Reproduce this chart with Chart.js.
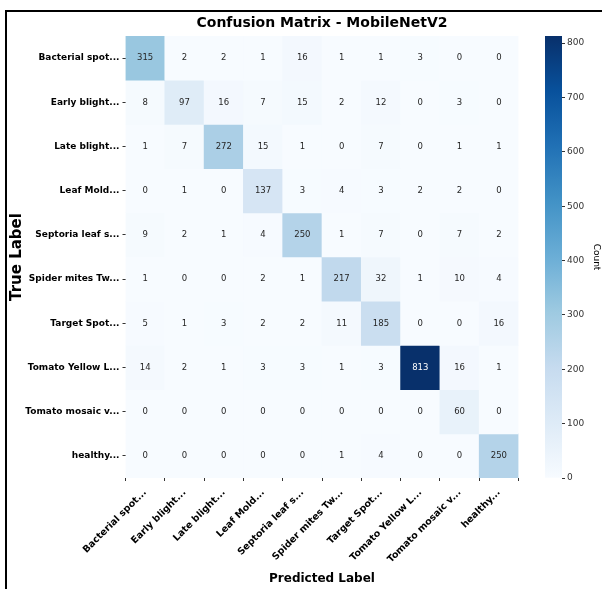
<!DOCTYPE html>
<html>
<head>
<meta charset="utf-8">
<script src="https://cdn.jsdelivr.net/npm/chart.js@4.4.1/dist/chart.umd.min.js"></script>
<style>
  html, body { margin: 0; padding: 0; background: #fff; overflow: hidden; }
  #wrap { position: relative; width: 602px; height: 589px; overflow: hidden; }
  #frame { position: absolute; left: 5px; top: 10px; width: 700px; height: 700px;
           border-left: 2px solid #000; border-top: 2px solid #000; pointer-events: none; }
  #main { position: absolute; left: 0; top: 0; }
  #bar { position: absolute; left: 520px; top: 0; }
</style>
</head>
<body>
<div id="wrap">
  <div id="frame"></div>
  <canvas id="main" width="602" height="589"></canvas>
  <canvas id="bar" width="82" height="589"></canvas>
</div>
<script>
// Class names (truncated as in the plot)
const trueLabels = [
  'Bacterial spot...', 'Early blight...', 'Late blight...', 'Leaf Mold...',
  'Septoria leaf s...', 'Spider mites Tw...', 'Target Spot...',
  'Tomato Yellow L...', 'Tomato mosaic v...', 'healthy...'
];
const predictedLabels = trueLabels.slice();

// Confusion matrix rows: true class -> counts per predicted class
const matrix = [
  [315,  2,   2,   1,  16,   1,   1,   3,   0,   0],
  [  8, 97,  16,   7,  15,   2,  12,   0,   3,   0],
  [  1,  7, 272,  15,   1,   0,   7,   0,   1,   1],
  [  0,  1,   0, 137,   3,   4,   3,   2,   2,   0],
  [  9,  2,   1,   4, 250,   1,   7,   0,   7,   2],
  [  1,  0,   0,   2,   1, 217,  32,   1,  10,   4],
  [  5,  1,   3,   2,   2,  11, 185,   0,   0,  16],
  [ 14,  2,   1,   3,   3,   1,   3, 813,  16,   1],
  [  0,  0,   0,   0,   0,   0,   0,   0,  60,   0],
  [  0,  0,   0,   0,   0,   1,   4,   0,   0, 250]
];

const colorbarTicks = [0, 100, 200, 300, 400, 500, 600, 700, 800];
const titleText = 'Confusion Matrix - MobileNetV2';

const vmin = 0;
const vmax = Math.max(...matrix.flat());
const FONT = '"DejaVu Sans", "Liberation Sans", sans-serif';

// matplotlib "Blues" colormap stops
const bluesStops = [
  [247, 251, 255], [222, 235, 247], [198, 219, 239], [158, 202, 225],
  [107, 174, 214], [66, 146, 198], [33, 113, 181], [8, 81, 156], [8, 48, 107]
];
function bluesRGB(t) {
  t = Math.min(1, Math.max(0, t));
  const pos = t * (bluesStops.length - 1);
  const i = Math.min(bluesStops.length - 2, Math.floor(pos));
  const f = pos - i;
  const a = bluesStops[i], b = bluesStops[i + 1];
  return [0, 1, 2].map(k => a[k] + (b[k] - a[k]) * f);
}
function blues(t) {
  const c = bluesRGB(t).map(Math.round);
  return `rgb(${c[0]},${c[1]},${c[2]})`;
}
function norm(v) { return (v - vmin) / (vmax - vmin); }
function textColorFor(v) {
  const lin = bluesRGB(norm(v)).map(x => {
    x /= 255;
    return x <= 0.03928 ? x / 12.92 : Math.pow((x + 0.055) / 1.055, 2.4);
  });
  const lum = 0.2126 * lin[0] + 0.7152 * lin[1] + 0.0722 * lin[2];
  return lum > 0.408 ? '#262626' : '#ffffff';
}

// Writes each cell's count at the centre of its bar
const cellText = {
  id: 'cellText',
  afterDatasetsDraw(chart) {
    const ctx = chart.ctx;
    ctx.save();
    ctx.font = `8.5px ${FONT}`;
    ctx.textAlign = 'center';
    ctx.textBaseline = 'middle';
    chart.data.datasets.forEach((ds, r) => {
      chart.getDatasetMeta(r).data.forEach((bar, c) => {
        const v = matrix[r][c];
        ctx.fillStyle = textColorFor(v);
        ctx.fillText(String(v), bar.x, (bar.y + bar.base) / 2);
      });
    });
    ctx.restore();
  }
};

// Heading centred over the plotting area
const chartTitle = {
  id: 'chartTitle',
  afterDraw(chart) {
    const { ctx, chartArea: a } = chart;
    ctx.save();
    ctx.font = `bold 14px ${FONT}`;
    ctx.fillStyle = '#000';
    ctx.textAlign = 'center';
    ctx.textBaseline = 'middle';
    ctx.fillText(titleText, (a.left + a.right) / 2, 23.5);
    ctx.restore();
  }
};

new Chart(document.getElementById('main'), {
  type: 'bar',
  data: {
    labels: predictedLabels,
    datasets: trueLabels.map((name, r) => ({
      label: name,
      data: matrix[r].map(() => [r, r + 1]),
      backgroundColor: matrix[r].map(v => blues(norm(v))),
      borderWidth: 0,
      grouped: false,
      barPercentage: 1,
      categoryPercentage: 1
    }))
  },
  options: {
    responsive: false,
    animation: false,
    devicePixelRatio: 1,
    layout: { padding: { left: 0, top: 36, right: 83.5, bottom: 0 } },
    plugins: {
      legend: { display: false },
      tooltip: { enabled: false },
      title: { display: false }
    },
    scales: {
      x: {
        type: 'category',
        offset: true,
        grid: { drawOnChartArea: false, drawTicks: true, tickLength: 3, color: '#333', lineWidth: 1 },
        border: { display: false },
        ticks: {
          font: { family: FONT, size: 9.5, weight: 'bold' },
          color: '#000',
          minRotation: 45,
          maxRotation: 45,
          autoSkip: false,
          padding: 6
        },
        title: {
          display: true,
          text: 'Predicted Label',
          font: { family: FONT, size: 12, weight: 'bold' },
          color: '#000',
          padding: { top: 0, bottom: 3 }
        },
        afterFit(s) { s.height = 111; }
      },
      y: {
        type: 'linear',
        min: 0,
        max: 10,
        reverse: true,
        afterBuildTicks(s) { s.ticks = trueLabels.map((_, i) => ({ value: i + 0.5 })); },
        grid: { drawOnChartArea: false, drawTicks: true, tickLength: 3, color: '#333', lineWidth: 1 },
        border: { display: false },
        ticks: {
          callback: (v, i) => trueLabels[i],
          font: { family: FONT, size: 9, weight: 'bold' },
          color: '#000',
          autoSkip: false,
          padding: 3
        },
        title: {
          display: true,
          text: 'True Label',
          font: { family: FONT, size: 15, weight: 'bold' },
          color: '#000',
          padding: { top: 8, bottom: 0 }
        },
        afterFit(s) { s.width = 125.5; }
      }
    }
  },
  plugins: [cellText, chartTitle]
});

// Colour bar: one floating bar spanning the value range, filled with the colormap
new Chart(document.getElementById('bar'), {
  type: 'bar',
  data: {
    labels: [''],
    datasets: [{
      data: [[vmin, vmax]],
      backgroundColor(context) {
        const chart = context.chart;
        const y = chart.scales.y;
        if (!chart.chartArea || !y) return blues(0.5);
        const g = chart.ctx.createLinearGradient(0, y.getPixelForValue(vmin), 0, y.getPixelForValue(vmax));
        bluesStops.forEach((c, i) => g.addColorStop(i / (bluesStops.length - 1), `rgb(${c[0]},${c[1]},${c[2]})`));
        return g;
      },
      borderWidth: 0,
      barPercentage: 1,
      categoryPercentage: 1
    }]
  },
  options: {
    responsive: false,
    animation: false,
    devicePixelRatio: 1,
    layout: { padding: { left: 25, top: 36, right: 0, bottom: 111 } },
    plugins: { legend: { display: false }, tooltip: { enabled: false } },
    scales: {
      x: { display: false },
      y: {
        position: 'right',
        min: vmin,
        max: vmax,
        afterBuildTicks(s) { s.ticks = colorbarTicks.map(v => ({ value: v })); },
        grid: { drawOnChartArea: false, drawTicks: true, tickLength: 3, color: '#333', lineWidth: 1 },
        border: { display: false },
        ticks: { font: { family: FONT, size: 9 }, color: '#333', padding: 2 },
        title: {
          display: true,
          text: 'Count',
          font: { family: FONT, size: 9 },
          color: '#000',
          padding: 0
        },
        afterFit(s) { s.width = 40; }
      }
    }
  }
});
</script>
</body>
</html>
